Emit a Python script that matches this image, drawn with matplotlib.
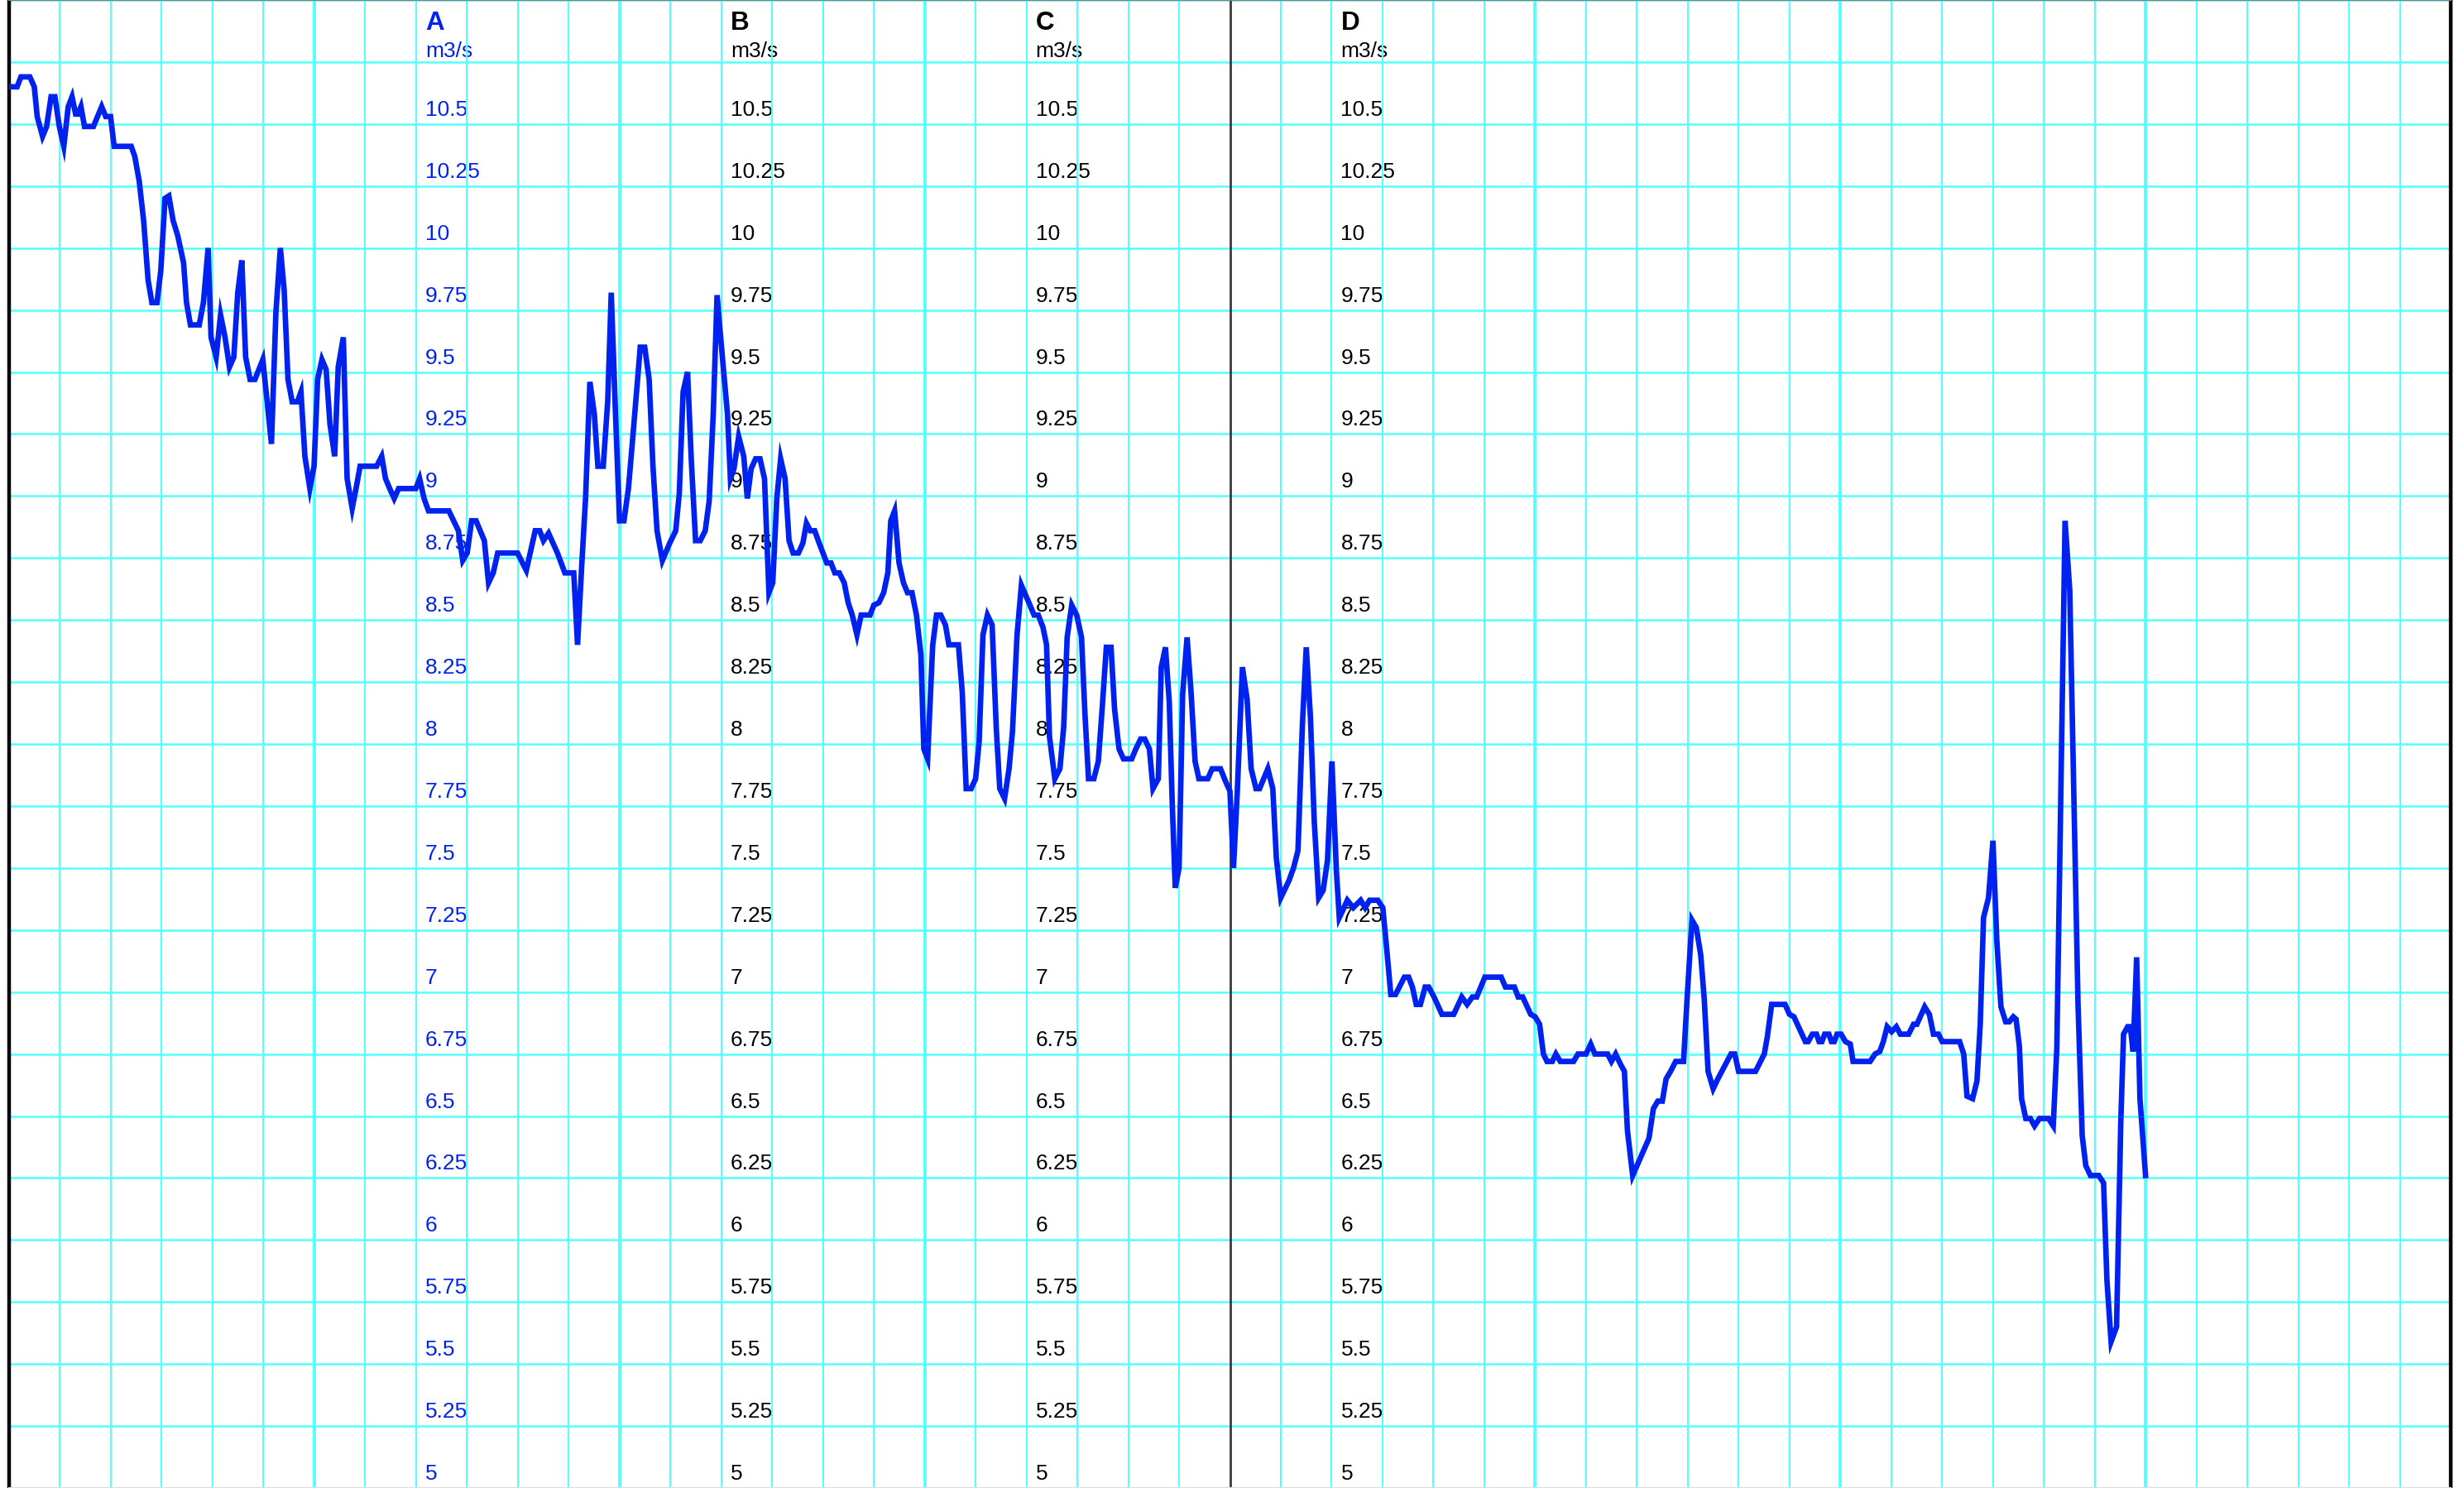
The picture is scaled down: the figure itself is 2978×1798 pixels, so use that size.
import matplotlib
matplotlib.use("Agg")
import matplotlib.pyplot as plt
import numpy as np
from matplotlib.transforms import offset_copy

plt.rcParams['font.family'] = ['Liberation Sans', 'DejaVu Sans']

# ---------------- data ----------------
# time in hours from the left edge of the chart (8 days shown, 4-hour minor grid)
hours = [
    0, 0.63, 0.93, 1.63, 1.98, 2.21, 2.63, 2.95, 3.3, 3.6, 3.95, 4.3, 4.65, 4.95, 5.23, 5.42,
    5.65, 5.93, 6.63, 7.28, 7.6, 7.98, 8.26, 9.6, 9.88, 10.23, 10.58, 10.93, 11.23, 11.63,
    11.93, 12.26, 12.56, 12.9, 13.26, 13.72, 13.95, 14.26, 14.95, 15.28, 15.65, 15.88, 16.28,
    16.63, 16.98, 17.33, 17.67, 17.98, 18.3, 18.6, 18.95, 19.33, 19.95, 20.63, 20.98, 21.33,
    21.63, 21.93, 22.26, 22.67, 22.95, 23.26, 23.65, 23.98, 24.26, 24.6, 24.93, 25.23, 25.6,
    25.88, 26.28, 26.58, 26.98, 27.28, 27.6, 28.9, 29.3, 29.6, 29.93, 30.28, 30.63, 31.98,
    32.28, 32.63, 32.98, 34.58,
    35.33, 35.67, 36.02, 36.37, 36.72, 37.37, 37.7, 38.07, 38.42, 39.98, 40.67, 41.37, 41.72,
    42.02, 42.42, 43.12, 43.7, 44.4, 44.7, 45.05, 45.33, 45.67, 46.02, 46.3, 46.72, 47.07,
    47.35, 47.65, 48.0, 48.35, 48.7, 49.05, 49.63, 49.98, 50.33, 50.63, 50.95, 51.37, 51.95,
    52.42, 52.7, 53.0, 53.35, 53.65, 53.98, 54.35, 54.74, 55.05, 55.37, 55.67, 56.14, 56.49,
    56.72, 57.0, 57.37, 57.77, 58.05, 58.35, 58.7, 59.05, 59.4, 59.75, 60.05, 60.37, 60.67,
    61.02, 61.33, 61.65, 62.07, 62.42, 62.7, 63.0, 63.35, 63.7, 64.3, 64.63, 64.93, 65.28,
    65.67, 65.98, 66.3, 66.67, 67.0, 67.7, 68.0, 68.4, 68.77, 69.1, 69.33, 69.63, 69.98, 70.33,
    70.65, 71.0, 71.35, 71.7, 71.93, 72.23, 72.4, 72.63, 72.93, 73.26, 73.63, 73.9, 74.65,
    74.95, 75.26, 75.65, 76.0, 76.28, 76.58, 76.93, 77.3, 77.63, 77.9, 78.28, 78.63, 78.9,
    79.26, 79.6, 80.19, 80.6, 80.93, 81.3, 81.58, 81.81, 82.23, 82.63, 82.93, 83.2, 83.56,
    83.95, 84.33, 84.6, 84.88, 85.3, 85.65, 85.95, 86.28, 86.65, 86.93, 87.28, 87.63, 88.28,
    88.6, 88.98, 89.3, 89.67, 89.95, 90.37, 90.6, 90.93, 91.23, 91.47, 91.7, 92.0, 92.28,
    92.63, 92.93, 93.26, 93.56, 94.26, 94.6, 95.26, 95.65, 96.0, 96.28, 96.58, 96.98, 97.35,
    97.67, 98.05, 98.33, 98.98, 99.37, 99.65, 100.0, 100.65, 101.0, 101.35, 101.7, 102.0,
    102.33, 102.63, 102.98, 103.33, 103.67, 104.02, 104.37, 104.6, 104.88,
    105.23, 105.7, 106.28, 106.63, 106.98, 107.63, 108.02, 108.37, 108.65, 109.02, 109.72,
    110.05, 110.35, 110.65, 110.98, 111.35, 111.63, 112.05, 112.67, 113.6, 114.23, 114.65,
    115.07, 115.4, 116.05, 117.33, 117.67, 118.37, 118.67, 119.02, 119.65, 120.0, 120.35,
    120.65, 120.93, 121.35, 121.63, 121.98, 123.02, 123.37, 124.0, 124.37, 124.7, 125.7,
    126.0, 126.33, 126.7, 127.02, 127.26, 127.67, 128.95, 129.3, 129.65, 130.0, 130.3, 130.65,
    131.05, 131.67, 131.98, 132.33, 132.67, 133.02, 133.3, 133.6, 134.0, 134.37, 135.4, 135.7,
    136.0, 137.33, 138.02, 138.26, 138.6, 139.65, 140.0, 140.35,
    141.25, 141.47, 141.8, 142.12, 142.33, 142.55, 142.77, 143.1, 143.3, 143.52, 143.74,
    144.06, 144.4, 144.78, 145.0, 146.34, 146.73, 147.1, 147.38, 147.68, 148.03, 148.4,
    148.72, 149.37, 149.76, 150.02, 150.63, 151.0, 151.32, 151.71, 152.01, 153.38, 153.7,
    153.96, 154.4, 154.74, 155.0, 155.26, 155.65, 156.0, 156.3, 156.63, 157.0, 157.28, 157.6,
    157.82, 158.08, 158.25, 158.58, 158.94, 159.27, 159.66, 160.37, 160.74, 161.02, 161.28,
    161.67, 162.04, 162.37, 162.69, 163.02, 163.3, 163.67, 164.32, 164.7, 164.96, 165.29,
    165.72, 166.05, 166.27, 166.59, 166.8, 167.02, 167.3, 167.56, 168.0,
]

flow = [
    10.65, 10.65, 10.69, 10.69, 10.65, 10.53, 10.45, 10.49, 10.61, 10.61, 10.49, 10.41, 10.57,
    10.61, 10.54, 10.54, 10.57, 10.49, 10.49, 10.57, 10.53, 10.53, 10.41, 10.41, 10.37, 10.27,
    10.11, 9.87, 9.78, 9.78, 9.91, 10.20, 10.21, 10.11, 10.05, 9.94, 9.78, 9.69, 9.69, 9.78,
    10.0, 9.64, 9.56, 9.73, 9.64, 9.52, 9.56, 9.82, 9.95, 9.56, 9.47, 9.47, 9.55, 9.21, 9.74,
    10.0, 9.83, 9.47, 9.38, 9.38, 9.42, 9.16, 9.03, 9.12, 9.47, 9.55, 9.51, 9.29, 9.16, 9.52,
    9.64, 9.07, 8.95, 9.03, 9.12, 9.12, 9.16, 9.07, 9.03, 8.99, 9.03, 9.03, 9.07, 8.99, 8.94,
    8.94,
    8.86, 8.74, 8.77, 8.90, 8.90, 8.82, 8.65, 8.69, 8.77, 8.77, 8.70, 8.86, 8.86, 8.82, 8.85,
    8.77, 8.69, 8.69, 8.40, 8.74, 8.99, 9.46, 9.33, 9.12, 9.12, 9.38, 9.82, 9.38, 8.90, 8.90,
    9.03, 9.24, 9.60, 9.60, 9.47, 9.12, 8.86, 8.74, 8.81, 8.86, 9.01, 9.42, 9.50, 9.14, 8.82,
    8.82, 8.86, 8.98, 9.33, 9.81, 9.53, 9.33, 9.07, 9.11, 9.24, 9.16, 8.99, 9.11, 9.15, 9.15,
    9.07, 8.61, 8.65, 8.99, 9.15, 9.07, 8.82, 8.77, 8.77, 8.81, 8.89, 8.86, 8.86, 8.81, 8.73,
    8.73, 8.69, 8.69, 8.65, 8.57, 8.52, 8.44, 8.52, 8.52, 8.56, 8.57, 8.61, 8.69, 8.90, 8.94,
    8.73, 8.65,
    8.61, 8.61, 8.52, 8.36, 7.98, 7.94, 8.14, 8.40, 8.52, 8.52, 8.48, 8.40, 8.40, 8.21, 7.82,
    7.82, 7.86, 8.01, 8.44, 8.52, 8.48, 8.06, 7.82, 7.78, 7.90, 8.05, 8.44, 8.64, 8.57, 8.52,
    8.52, 8.47, 8.40, 8.03, 7.86, 7.90, 8.07, 8.43, 8.56, 8.52, 8.43, 8.12, 7.86, 7.86, 7.93,
    8.14, 8.39, 8.39, 8.14, 7.98, 7.94, 7.94, 7.98, 8.02, 8.02, 7.98, 7.82, 7.86, 8.31, 8.39,
    8.17, 7.75, 7.42, 7.50, 8.20, 8.43, 8.22, 7.93, 7.86, 7.86, 7.90, 7.90, 7.85, 7.81, 7.50,
    7.81, 8.31, 8.18, 7.90, 7.82, 7.82, 7.90, 7.82, 7.54, 7.38, 7.45, 7.50, 7.57, 8.08, 8.39,
    8.11, 7.69, 7.38, 7.41, 7.53, 7.93, 7.49, 7.30, 7.33,
    7.37, 7.34, 7.37, 7.34, 7.37, 7.37, 7.34, 7.15, 6.99, 6.99, 7.06, 7.06, 7.02, 6.95, 6.95,
    7.02, 7.02, 6.98, 6.91, 6.91, 6.98, 6.95, 6.98, 6.98, 7.06, 7.06, 7.02, 7.02, 6.98, 6.98,
    6.91, 6.90, 6.87, 6.75, 6.72, 6.72, 6.75, 6.72, 6.72, 6.75, 6.75, 6.79, 6.75, 6.75, 6.72,
    6.75, 6.71, 6.68, 6.44, 6.26, 6.41, 6.53, 6.56, 6.56, 6.65, 6.68, 6.72, 6.72, 7.0, 7.29,
    7.26, 7.15, 6.97, 6.68, 6.61, 6.65, 6.75, 6.75, 6.68, 6.68, 6.75, 6.82, 6.95, 6.95, 6.91,
    6.90,
    6.80, 6.80, 6.83, 6.83, 6.80, 6.80, 6.83, 6.83, 6.80, 6.80, 6.83, 6.83, 6.80, 6.79, 6.72,
    6.72, 6.75, 6.76, 6.80, 6.86, 6.84, 6.86, 6.83, 6.83, 6.87, 6.87, 6.94, 6.91, 6.83, 6.83,
    6.80, 6.80, 6.75, 6.58, 6.57, 6.64, 6.87, 7.30, 7.38, 7.61, 7.21, 6.94, 6.88, 6.88, 6.90,
    6.89, 6.78, 6.57, 6.49, 6.49, 6.46, 6.49, 6.49, 6.46, 6.77, 7.61, 8.90, 8.62, 7.78, 6.95,
    6.42, 6.30, 6.26, 6.26, 6.23, 5.84, 5.59, 5.65, 6.47, 6.83, 6.86, 6.86, 6.76, 7.14, 6.57,
    6.26,
]

axis_names = ["A", "B", "C", "D"]
axis_colors = ["#0022EE", "#000000", "#000000", "#000000"]
axis_hours = [32, 56, 80, 104]          # x position (hours) of each label column
unit_label = "m3/s"
tick_values = [10.5, 10.25, 10.0, 9.75, 9.5, 9.25, 9.0, 8.75, 8.5, 8.25, 8.0, 7.75,
               7.5, 7.25, 7.0, 6.75, 6.5, 6.25, 6.0, 5.75, 5.5, 5.25, 5.0]
now_hour = 96

# ---------------- figure ----------------
W, H, DPI = 2978, 1798, 200
fig = plt.figure(figsize=(W / DPI, H / DPI), dpi=DPI)
fig.patch.set_facecolor("white")
ax = fig.add_axes([11 / W, 0, 2951 / W, 1])
ax.set_xlim(0, 192)
ax.set_ylim(5.007, 11.0)

cyan = "#55FFFF"
major_x = [h for h in range(0, 193, 24) if h != now_hour]
minor_x = [h for h in range(0, 193, 4) if h % 24 != 0]
ax.set_xticks(major_x)
ax.set_xticks(minor_x, minor=True)
ax.set_yticks(np.arange(5.0, 11.01, 0.25))
ax.grid(which="major", axis="x", color=cyan, lw=1.4)
ax.grid(which="minor", axis="x", color=cyan, lw=0.75)
ax.grid(which="major", axis="y", color=cyan, lw=0.9)
ax.set_axisbelow(True)
ax.tick_params(which="both", length=0, labelbottom=False, labelleft=False)

ax.spines["left"].set_color("black")
ax.spines["left"].set_linewidth(1.6)
ax.spines["right"].set_color("black")
ax.spines["right"].set_linewidth(1.6)
ax.spines["top"].set_color("#808080")
ax.spines["top"].set_linewidth(0.8)
ax.spines["bottom"].set_color("#dddddd")
ax.spines["bottom"].set_linewidth(0.8)

ax.axvline(now_hour, color="#3a3a3a", lw=1.0, zorder=1.5)

# axis label columns
trans = offset_copy(ax.transData, fig=fig, x=11, y=10, units="dots")
for name, col, xh in zip(axis_names, axis_colors, axis_hours):
    for v in tick_values:
        ax.text(xh, v, f"{v:g}", transform=trans, fontsize=9.5, color=col,
                ha="left", va="baseline", zorder=0.2)
    ax.text(xh, 10.737, unit_label, transform=trans, fontsize=9.5, color=col,
            ha="left", va="baseline", zorder=0.2)
    ax.text(xh, 10.847, name, transform=trans, fontsize=11.3, color=col,
            fontweight="bold", ha="left", va="baseline", zorder=0.2)

ax.plot(hours, flow, color="#0022EE", lw=2.4, solid_joinstyle="miter", zorder=3)

fig.savefig("out.png", dpi=DPI)
